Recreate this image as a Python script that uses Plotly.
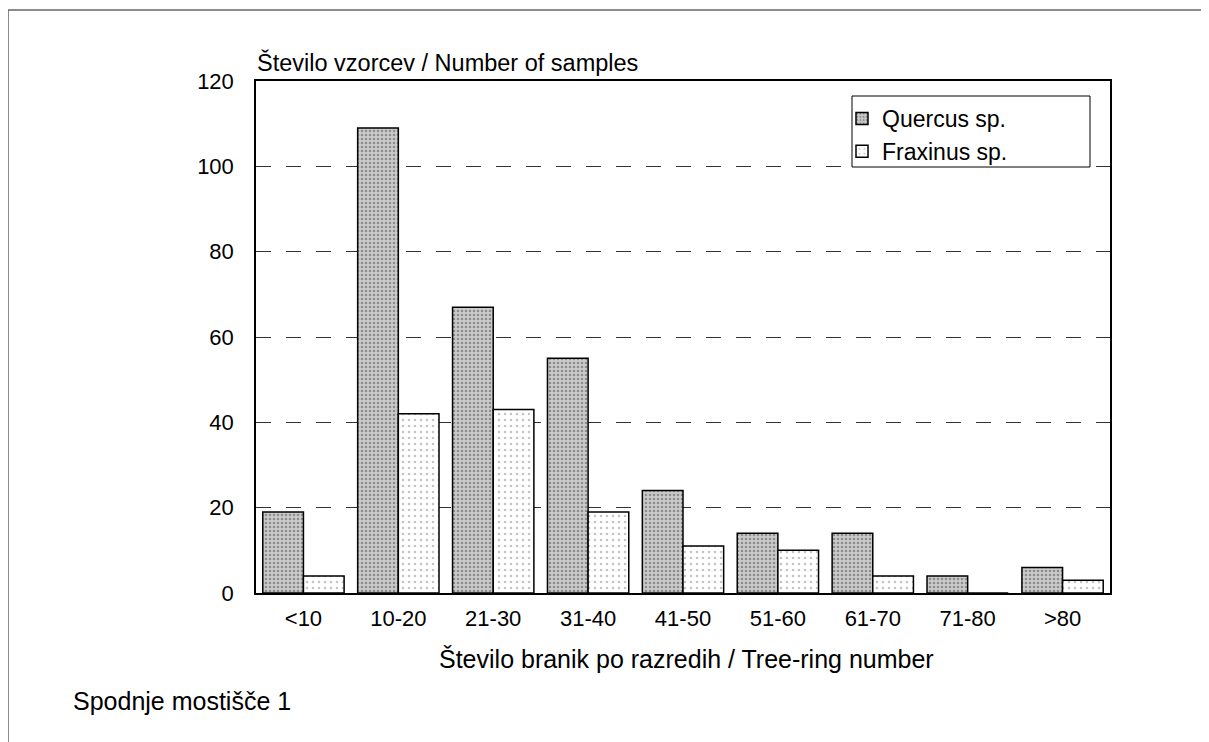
import plotly.graph_objects as go

categories = ["<10", "10-20", "21-30", "31-40", "41-50", "51-60", "61-70", "71-80", ">80"]
quercus = [19, 109, 67, 55, 24, 14, 14, 4, 6]
fraxinus = [4, 42, 43, 19, 11, 10, 4, 0, 3]
y_ticks = [0, 20, 40, 60, 80, 100, 120]

FONT = "Liberation Sans, Arial, sans-serif"
OFF = 8  # page body margin
W, H = 1201, 734
L, R, T, B = 248, 99, 73, 149
pw, ph = W - L - R, H - T - B

def px_x(x):
    # screen x -> paper x
    return (x - OFF - L) / pw

def px_y(y):
    # screen y -> paper y
    return (H - B - (y - OFF)) / ph

fig = go.Figure()
fig.add_trace(go.Bar(
    x=categories, y=quercus, name="Quercus sp.",
    marker=dict(color="#c8c8c8", line=dict(color="black", width=1.5),
                pattern=dict(shape=".", fgcolor="#505050", bgcolor="#cbcbcb", size=4, solidity=0.35)),
))
fig.add_trace(go.Bar(
    x=categories, y=fraxinus, name="Fraxinus sp.",
    marker=dict(color="white", line=dict(color="black", width=1.5),
                pattern=dict(shape=".", fgcolor="#8a8a8a", bgcolor="white", size=6, solidity=0.15)),
))

fig.update_layout(
    width=W, height=H,
    margin=dict(l=L, r=R, t=T, b=B),
    paper_bgcolor="white", plot_bgcolor="white",
    barmode="group", bargap=0.143, bargroupgap=0,
    font=dict(family=FONT, size=22, color="black"),
    showlegend=True,
    legend=dict(x=px_x(842), y=px_y(97), xanchor="left", yanchor="top",
                bgcolor="rgba(0,0,0,0)", borderwidth=0,
                font=dict(size=23), itemwidth=30, tracegroupgap=0),
    xaxis=dict(showline=True, linecolor="black", linewidth=1.5, mirror=True,
               ticks="", showgrid=False, ticklabelstandoff=5),
    yaxis=dict(range=[0, 120], tickvals=y_ticks, showline=True, linecolor="black",
               linewidth=1.5, mirror=True, ticks="", showgrid=True,
               gridcolor="#333333", gridwidth=1, griddash="15px,15px",
               zeroline=False, ticklabelstandoff=16),
    annotations=[
        dict(text="Število vzorcev / Number of samples", xref="paper", yref="paper",
             x=px_x(255), y=px_y(62), xanchor="left", yanchor="middle", showarrow=False,
             font=dict(size=23.5)),
        dict(text="Število branik po razredih / Tree-ring number", xref="paper", yref="paper",
             x=px_x(686), y=px_y(659), xanchor="center", yanchor="middle", showarrow=False,
             font=dict(size=25)),
        dict(text="Spodnje mostišče 1", xref="paper", yref="paper",
             x=px_x(71), y=px_y(701), xanchor="left", yanchor="middle", showarrow=False,
             font=dict(size=25)),
    ],
    shapes=[
        dict(type="rect", xref="paper", yref="paper", layer="above",
             x0=px_x(852), x1=px_x(1090), y0=px_y(96), y1=px_y(167),
             line=dict(color="black", width=1), fillcolor="white"),
        dict(type="line", xref="paper", yref="paper", x0=px_x(8), x1=px_x(1230),
             y0=px_y(10), y1=px_y(10), line=dict(color="#666666", width=1.5)),
        dict(type="line", xref="paper", yref="paper", x0=px_x(8), x1=px_x(8),
             y0=px_y(10), y1=px_y(760), line=dict(color="#666666", width=1.5)),
    ],
)

fig.write_html("out.html")
